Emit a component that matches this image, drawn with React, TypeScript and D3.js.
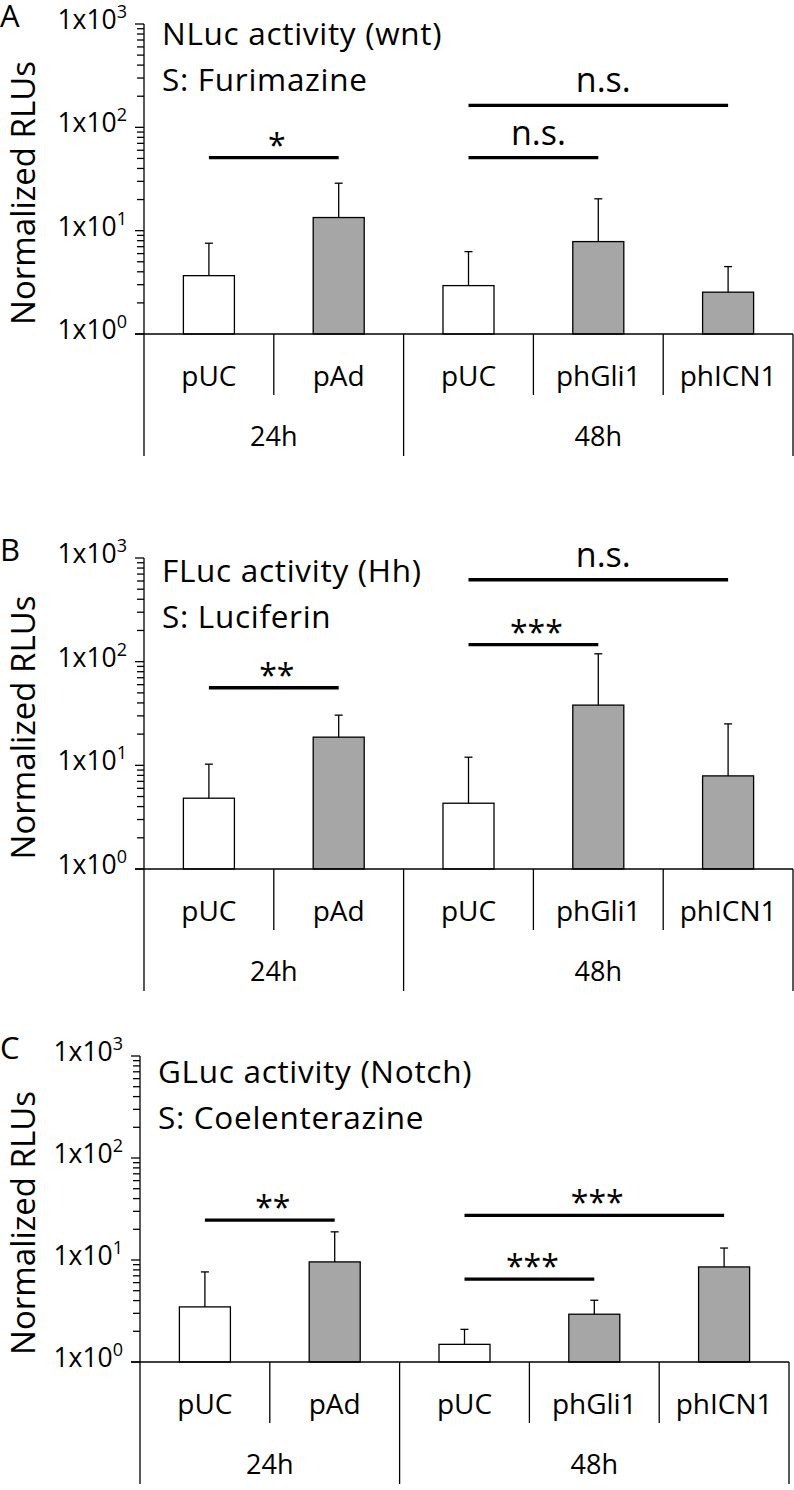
import React, { useRef, useEffect } from 'react'
import * as d3 from 'd3'

// categories on the x axis
const categories = ['pUC', 'pAd', 'pUC', 'phGli1', 'phICN1']
const controlBars = [true, false, true, false, false]
const timeGroups = ['24h', '48h']
const groupSpans = [[0, 2], [2, 5]]
const yTickValues = [1, 10, 100, 1000]
const yTickExp = ['0', '1', '2', '3']

const panelLetters = ['A', 'B', 'C']
const panelTitles = ['NLuc activity (wnt)', 'FLuc activity (Hh)', 'GLuc activity (Notch)']
const panelSubstrates = ['S: Furimazine', 'S: Luciferin', 'S: Coelenterazine']

// mean and +SD, normalized RLUs
const meansA = [3.67, 13.4, 2.94, 7.84, 2.54]
const sdA = [3.89, 15.4, 3.33, 12.5, 1.95]
const meansB = [4.82, 18.7, 4.31, 38.1, 7.91]
const sdB = [5.44, 11.8, 7.67, 81, 17.2]
const meansC = [3.47, 9.58, 1.49, 2.94, 8.55]
const sdC = [4.17, 9.3, 0.6, 1.09, 4.55]

// significance brackets: from, to, height (RLU), label
const sigA = [[0, 1, 51, '*'], [2, 3, 51, 'n.s.'], [2, 4, 163, 'n.s.']]
const sigB = [[0, 1, 56, '**'], [2, 3, 146, '***'], [2, 4, 617, 'n.s.']]
const sigC = [[0, 1, 24.6, '**'], [2, 3, 6.5, '***'], [2, 4, 27.4, '***']]

const means = [meansA, meansB, meansC]
const sds = [sdA, sdB, sdC]
const sigs = [sigA, sigB, sigC]

// panel frames in page pixels
const panels = [
  { top: 24, base: 334, left: 144, right: 793, titleY: 45 },
  { top: 558, base: 869, left: 144, right: 793, titleY: 582 },
  { top: 1056, base: 1362, left: 140, right: 789, titleY: 1083 },
]

const W = 794
const H = 1490
const FONT = '"Open Sans", "Noto Sans", sans-serif'

const App = () => {
  const svgEl = useRef<SVGSVGElement>(null)

  useEffect(() => {
    const svg = d3.select(svgEl.current)
    svg.selectAll('*').remove()

    panels.forEach((p, pi) => {
      const g = svg.append('g').attr('class', 'panel')
      const y = d3.scaleLog().domain([1, 1000]).range([p.base, p.top])
      const x = d3.scaleBand().domain(d3.range(categories.length).map(String)).range([p.left, p.right]).padding(0)
      const cx = (i) => x(String(i)) + x.bandwidth() / 2
      const barW = x.bandwidth() * 0.393

      // panel letter
      g.append('text').attr('x', 0).attr('y', p.top + 3)
        .attr('font-size', 31).attr('font-family', FONT).text(panelLetters[pi])

      // title + substrate
      g.append('text').attr('x', p.left + 18).attr('y', p.titleY)
        .attr('font-size', 31.5).attr('letter-spacing', 0.7).attr('font-family', FONT).text(panelTitles[pi])
      g.append('text').attr('x', p.left + 18).attr('y', p.titleY + 46)
        .attr('font-size', 31.5).attr('letter-spacing', 0.7).attr('font-family', FONT).text(panelSubstrates[pi])

      // y axis title
      g.append('text')
        .attr('transform', `translate(35,${(p.top + p.base) / 2 + 14}) rotate(-90)`)
        .attr('text-anchor', 'middle').attr('font-size', 33).attr('font-family', FONT)
        .text('Normalized RLUs')

      // minor + major ticks
      const minor = []
      for (let d = 0; d < 3; d++) for (let k = 2; k < 10; k++) minor.push(k * Math.pow(10, d))
      g.selectAll('line.minor').data(minor).enter().append('line')
        .attr('x1', p.left - 7).attr('x2', p.left)
        .attr('y1', d => y(d)).attr('y2', d => y(d))
        .attr('stroke', '#000').attr('stroke-width', 1.3)
      g.selectAll('line.major').data(yTickValues).enter().append('line')
        .attr('x1', p.left - 9).attr('x2', p.left)
        .attr('y1', d => y(d)).attr('y2', d => y(d))
        .attr('stroke', '#000').attr('stroke-width', 1.3)

      const lbl = g.selectAll('text.ytick').data(yTickValues).enter().append('text')
        .attr('class', 'ytick')
        .attr('x', p.left - 17).attr('y', d => y(d) + 5)
        .attr('text-anchor', 'end').attr('font-family', FONT).attr('font-size', 26.5)
      lbl.append('tspan').text('1x10')
      lbl.append('tspan').attr('dy', -11).attr('font-size', 18).text((d, i) => yTickExp[i])

      // bars
      const data = means[pi].map((m, i) => ({ m, sd: sds[pi][i], i }))
      g.selectAll('rect.bar').data(data).enter().append('rect')
        .attr('x', d => cx(d.i) - barW / 2).attr('width', barW)
        .attr('y', d => y(d.m)).attr('height', d => y(1) - y(d.m))
        .attr('fill', d => controlBars[d.i] ? '#ffffff' : '#a6a6a6')
        .attr('stroke', '#000').attr('stroke-width', 1.3)

      // error bars (upper only)
      g.selectAll('line.err').data(data).enter().append('line')
        .attr('x1', d => cx(d.i)).attr('x2', d => cx(d.i))
        .attr('y1', d => y(d.m)).attr('y2', d => y(d.m + d.sd))
        .attr('stroke', '#000').attr('stroke-width', 1.3)
      g.selectAll('line.cap').data(data).enter().append('line')
        .attr('x1', d => cx(d.i) - 4).attr('x2', d => cx(d.i) + 4)
        .attr('y1', d => y(d.m + d.sd)).attr('y2', d => y(d.m + d.sd))
        .attr('stroke', '#000').attr('stroke-width', 1.3)

      // axes frame
      g.append('line').attr('x1', p.left).attr('x2', p.left)
        .attr('y1', p.top).attr('y2', p.base + 122)
        .attr('stroke', '#000').attr('stroke-width', 1.3)
      g.append('line').attr('x1', p.left - 9).attr('x2', p.right)
        .attr('y1', p.base).attr('y2', p.base)
        .attr('stroke', '#000').attr('stroke-width', 1.3)
      const seps = d3.range(1, categories.length + 1)
      g.selectAll('line.sep').data(seps).enter().append('line')
        .attr('x1', i => i === categories.length ? p.right : x(String(i)))
        .attr('x2', i => i === categories.length ? p.right : x(String(i)))
        .attr('y1', p.base)
        .attr('y2', i => (i === categories.length || groupSpans.some(s => s[0] === i)) ? p.base + 122 : p.base + 61)
        .attr('stroke', '#000').attr('stroke-width', 1.3)

      // category + group labels
      g.selectAll('text.cat').data(categories).enter().append('text')
        .attr('x', (d, i) => cx(i)).attr('y', p.base + 52)
        .attr('text-anchor', 'middle').attr('font-size', 28).attr('font-family', FONT)
        .text(d => d)
      g.selectAll('text.grp').data(timeGroups).enter().append('text')
        .attr('x', (d, i) => (x(String(groupSpans[i][0])) + (groupSpans[i][1] === categories.length ? p.right : x(String(groupSpans[i][1])))) / 2)
        .attr('y', p.base + 112)
        .attr('text-anchor', 'middle').attr('font-size', 27).attr('font-family', FONT)
        .text(d => d)

      // significance brackets
      sigs[pi].forEach(([a, b, h, label]) => {
        const ly = y(h)
        g.append('line').attr('x1', cx(a)).attr('x2', cx(b))
          .attr('y1', ly).attr('y2', ly)
          .attr('stroke', '#000').attr('stroke-width', 3.3)
        const star = String(label).startsWith('*')
        g.append('text').attr('x', (cx(a) + cx(b)) / 2 + (star ? 3 : 5))
          .attr('y', star ? ly - 1 : ly - 13)
          .attr('text-anchor', 'middle').attr('font-size', star ? 32 : 34).attr('font-family', FONT)
          .text(label)
      })
    })
  }, [])

  return (
    <svg ref={svgEl} width={W} height={H} viewBox={`0 0 ${W} ${H}`}
      style={{ position: 'absolute', left: 0, top: 0, background: '#fff' }} />
  )
}

export default App
